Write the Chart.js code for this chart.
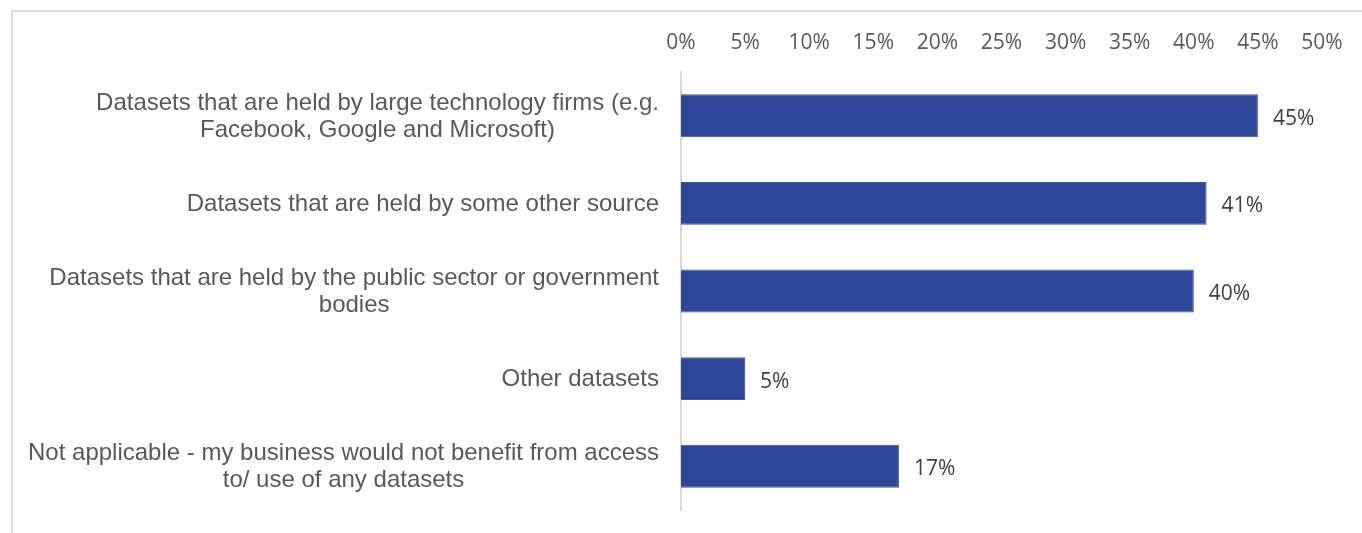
<!DOCTYPE html>
<html>
<head>
<meta charset="utf-8">
<script src="https://cdn.jsdelivr.net/npm/chart.js@4/dist/chart.umd.min.js"></script>
<style>
  html, body { margin: 0; padding: 0; background: #fff; }
  .wrap { position: relative; width: 1362px; height: 533px; overflow: hidden; }
  .frame {
    position: absolute; left: 11px; top: 10px; width: 1400px; height: 600px;
    border: 2px solid #dcdcdc; box-sizing: border-box;
  }
  canvas { position: absolute; left: 0; top: 0; }
</style>
</head>
<body>
<div class="wrap">
  <div class="frame"></div>
  <canvas id="datasetChart" width="1362" height="533"></canvas>
</div>
<script>
  const categories = [
    ["Datasets that are held by large technology firms (e.g.", "Facebook, Google and Microsoft)"],
    ["Datasets that are held by some other source"],
    ["Datasets that are held by the public sector or government", "bodies"],
    ["Other datasets"],
    ["Not applicable - my business would not benefit from access", "to/ use of any datasets"]
  ];
  const shares = [45, 41, 40, 5, 17];
  const xTicks = [0, 5, 10, 15, 20, 25, 30, 35, 40, 45, 50];

  // category text: right-aligned block, each line centred inside it
  const categoryLabels = {
    id: "categoryLabels",
    afterDraw(chart) {
      const ctx = chart.ctx;
      const yScale = chart.scales.y;
      const rightEdge = 659;
      const lineHeight = 27;
      ctx.save();
      ctx.font = "24px 'Liberation Sans', Arial, sans-serif";
      ctx.fillStyle = "#595959";
      ctx.textAlign = "center";
      ctx.textBaseline = "middle";
      categories.forEach((lines, i) => {
        const widths = lines.map((l) => ctx.measureText(l).width);
        const blockWidth = Math.max(...widths);
        const cx = rightEdge - blockWidth / 2;
        const cy = yScale.getPixelForValue(i) + 1;
        const top = cy - ((lines.length - 1) * lineHeight) / 2;
        lines.forEach((line, j) => {
          ctx.fillText(line, cx, top + j * lineHeight);
        });
      });
      ctx.restore();
    }
  };

  // value text just past the end of each bar
  const valueLabels = {
    id: "valueLabels",
    afterDatasetsDraw(chart) {
      const ctx = chart.ctx;
      const meta = chart.getDatasetMeta(0);
      ctx.save();
      ctx.font = "21px 'Open Sans', sans-serif";
      ctx.fillStyle = "#404040";
      ctx.textAlign = "left";
      ctx.textBaseline = "middle";
      meta.data.forEach((bar, i) => {
        ctx.fillText(shares[i] + "%", bar.x + 15, bar.y + 3);
      });
      ctx.restore();
    }
  };

  const ctx = document.getElementById("datasetChart").getContext("2d");

  new Chart(ctx, {
    type: "bar",
    data: {
      labels: categories.map((c) => c.join(" ")),
      datasets: [
        {
          data: shares,
          backgroundColor: "#2F4699",
          borderColor: "#3A54A6",
          borderWidth: 1,
          barPercentage: 0.49,
          categoryPercentage: 1
        }
      ]
    },
    options: {
      indexAxis: "y",
      responsive: false,
      animation: false,
      layout: {
        padding: { top: 0, right: 40, bottom: 23, left: 0 }
      },
      plugins: {
        legend: { display: false },
        tooltip: { enabled: false }
      },
      scales: {
        x: {
          position: "top",
          min: 0,
          max: 50,
          afterBuildTicks(scale) {
            scale.ticks = xTicks.map((v) => ({ value: v }));
          },
          afterFit(scale) {
            scale.height = 72;
          },
          ticks: {
            padding: 8,
            color: "#595959",
            font: { family: "'Open Sans', sans-serif", size: 21 },
            callback: (v) => v + "%"
          },
          grid: { display: false },
          border: { display: false }
        },
        y: {
          afterFit(scale) {
            scale.width = 681;
          },
          ticks: { display: false },
          grid: { display: false },
          border: { display: true, color: "#d9d9d9", width: 2 }
        }
      }
    },
    plugins: [categoryLabels, valueLabels]
  });
</script>
</body>
</html>
